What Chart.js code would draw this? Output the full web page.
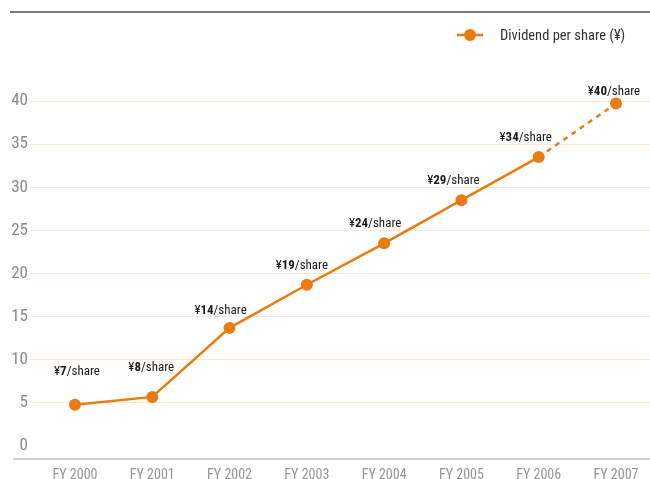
<!DOCTYPE html>
<html>
<head>
<meta charset="utf-8">
<script src="https://cdn.jsdelivr.net/npm/chart.js@4/dist/chart.umd.min.js"></script>
<style>
html,body{margin:0;padding:0;background:#fff;}
#wrap{width:650px;height:479px;position:relative;}
</style>
</head>
<body>
<div id="wrap"><canvas id="c" width="650" height="479"></canvas></div>
<script>
const categories = ["FY 2000","FY 2001","FY 2002","FY 2003","FY 2004","FY 2005","FY 2006","FY 2007"];
const dividendValues = [4.8, 5.7, 13.7, 18.7, 23.5, 28.5, 33.5, 39.7];
const dividendLabels = [7, 8, 14, 19, 24, 29, 34, 40];
const yTicks = [0, 5, 10, 15, 20, 25, 30, 35, 40];
const seriesName = "Dividend per share (¥)";

// label placement relative to each point (style, not data)
const labelOffsets = [[2,-33],[-1,-29],[-9,-17],[-5,-19],[-9,-20],[-8,-19],[-13,-19],[-2,-12]];

const ORANGE = "#E97B10";
const FONT = "'Liberation Sans Narrow','Roboto Condensed','Liberation Sans',sans-serif";

const chromePlugin = {
  id: 'chrome',
  afterDraw(chart) {
    const ctx = chart.ctx;
    const area = chart.chartArea;
    ctx.save();
    ctx.strokeStyle = "#7b7b7b";
    ctx.lineWidth = 2;
    ctx.beginPath(); ctx.moveTo(10, 12); ctx.lineTo(650, 12); ctx.stroke();
    ctx.strokeStyle = "#bdbdbd";
    ctx.lineWidth = 1.5;
    ctx.beginPath(); ctx.moveTo(13, area.bottom); ctx.lineTo(650, area.bottom); ctx.stroke();
    ctx.strokeStyle = ORANGE; ctx.lineWidth = 2.5;
    ctx.beginPath(); ctx.moveTo(457, 35); ctx.lineTo(483, 35); ctx.stroke();
    ctx.fillStyle = ORANGE;
    ctx.beginPath(); ctx.arc(470, 35, 6, 0, Math.PI*2); ctx.fill();
    ctx.fillStyle = "#333";
    ctx.font = "14.5px " + FONT;
    ctx.textBaseline = "middle"; ctx.textAlign = "left";
    ctx.fillText(seriesName, 500, 36);
    const meta = chart.getDatasetMeta(0);
    meta.data.forEach((pt, i) => {
      const cx = pt.x + labelOffsets[i][0];
      const cy = pt.y + labelOffsets[i][1];
      const a = "¥", b = String(dividendLabels[i]), c = "/share";
      ctx.font = "13px " + FONT; const wa = ctx.measureText(a).width, wc = ctx.measureText(c).width;
      ctx.font = "bold 13px " + FONT; const wb = ctx.measureText(b).width;
      let x = cx - (wa + wb + wc) / 2;
      ctx.fillStyle = "#1a1a1a";
      ctx.textAlign = "left";
      ctx.font = "13px " + FONT; ctx.fillText(a, x, cy); x += wa;
      ctx.font = "bold 13px " + FONT; ctx.fillText(b, x, cy); x += wb;
      ctx.font = "13px " + FONT; ctx.fillText(c, x, cy);
    });
    ctx.restore();
  }
};

new Chart(document.getElementById('c'), {
  type: 'line',
  data: {
    datasets: [{
      label: seriesName,
      data: dividendValues.map((v, i) => ({x: i, y: v})),
      borderColor: ORANGE,
      backgroundColor: ORANGE,
      borderWidth: 2.5,
      pointRadius: 6,
      pointHoverRadius: 6,
      pointBackgroundColor: ORANGE,
      pointBorderWidth: 0,
      tension: 0,
      clip: false,
      segment: {
        borderDash: ctx => ctx.p1DataIndex === categories.length - 1 ? [5, 5] : undefined
      }
    }]
  },
  options: {
    responsive: false,
    animation: false,
    layout: { autoPadding: false, padding: { top: 101, left: 0, right: 0, bottom: 0 } },
    plugins: { legend: { display: false }, tooltip: { enabled: false } },
    scales: {
      x: {
        type: 'linear',
        min: -0.582,
        max: 7.44,
        afterBuildTicks: s => { s.ticks = categories.map((_, i) => ({value: i})); },
        afterFit: s => { s.height = 20; s.paddingLeft = 0; s.paddingRight = 0; },
        ticks: {
          callback: v => categories[v],
          color: "#969696",
          font: { family: FONT, size: 14 },
          padding: 8,
          maxRotation: 0,
          autoSkip: false
        },
        grid: { display: false, drawTicks: false },
        border: { display: false }
      },
      y: {
        min: -1.5,
        max: 40,
        afterBuildTicks: s => { s.ticks = yTicks.map(v => ({value: v})); },
        afterFit: s => { s.width = 30; s.paddingTop = 0; s.paddingBottom = 0; },
        ticks: {
          color: "#8a8a8a",
          font: { family: FONT, size: 17 },
          padding: 2
        },
        grid: {
          drawTicks: false,
          color: c => (c.tick && c.tick.value === 0) ? 'rgba(0,0,0,0)' : "#fde6d2",
          lineWidth: 1
        },
        border: { display: false }
      }
    }
  },
  plugins: [chromePlugin]
});
</script>
</body>
</html>
